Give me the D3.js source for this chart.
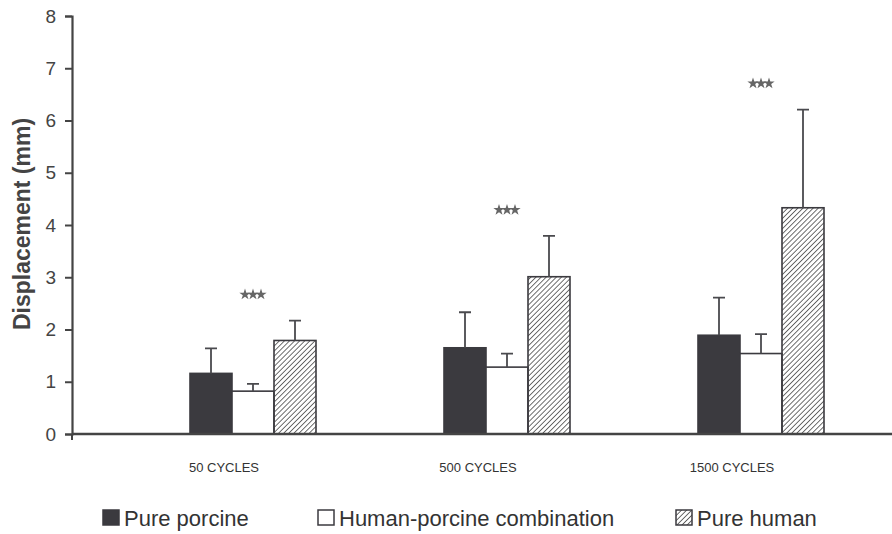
<!DOCTYPE html>
<html>
<head>
<meta charset="utf-8">
<script src="https://cdn.jsdelivr.net/npm/d3@7"></script>
<style>
  body { margin: 0; background: #fff; }
  svg { display: block; font-family: "Liberation Sans", Arial, sans-serif; }
</style>
</head>
<body>
<div id="chart"></div>
<script>
var width = 892, height = 534;

// chart values
var categories = ['50 CYCLES', '500 CYCLES', '1500 CYCLES'];
var series = ['Pure porcine', 'Human-porcine combination', 'Pure human'];
var porcine = [1.16, 1.65, 1.89];
var porcineErr = [0.48, 0.68, 0.72];
var combo = [0.82, 1.28, 1.54];
var comboErr = [0.14, 0.26, 0.37];
var human = [1.79, 3.01, 4.33];
var humanErr = [0.38, 0.78, 1.88];
var significance = [3, 3, 3]; // number of stars
var yTicks = [0, 1, 2, 3, 4, 5, 6, 7, 8];

var values = [porcine, combo, human];
var errors = [porcineErr, comboErr, humanErr];

var svg = d3.select('#chart').append('svg')
    .attr('width', width)
    .attr('height', height);

var defs = svg.append('defs');
defs.append('pattern')
    .attr('id', 'hatch')
    .attr('patternUnits', 'userSpaceOnUse')
    .attr('width', 3.6)
    .attr('height', 3.6)
    .attr('patternTransform', 'rotate(45)')
  .append('line')
    .attr('x1', 0).attr('y1', 0)
    .attr('x2', 0).attr('y2', 3.6)
    .attr('stroke', '#555')
    .attr('stroke-width', 1.7);

var fills = ['#3b3a3f', '#ffffff', 'url(#hatch)'];

var y = d3.scaleLinear().domain([0, 8]).range([434, 16]);
var x = d3.scaleBand().domain(categories).range([126, 888]).padding(0);
var xs = d3.scaleBand().domain(series).range([-63, 63]).padding(0);

// Y axis
var yAxis = svg.append('g')
    .attr('transform', 'translate(72,0)')
    .call(d3.axisLeft(y).tickValues(yTicks).tickSize(7).tickPadding(9).tickFormat(d3.format('d')));
yAxis.select('.domain').attr('stroke', '#444').attr('stroke-width', 2.2);
yAxis.selectAll('.tick line').attr('stroke', '#444').attr('stroke-width', 2);
yAxis.selectAll('.tick text')
    .attr('font-size', 19)
    .attr('fill', '#444')
    .attr('font-family', '"Liberation Sans", Arial, sans-serif');

svg.append('text')
    .attr('transform', 'translate(30,224) rotate(-90)')
    .attr('text-anchor', 'middle')
    .attr('font-size', 23)
    .attr('font-weight', 'bold')
    .attr('fill', '#444')
    .text('Displacement (mm)');

// Bars
var groups = svg.selectAll('g.group')
    .data(categories)
    .enter()
      .append('g')
        .attr('class', 'group')
        .attr('transform', function(d) { return 'translate(' + (x(d) + x.bandwidth() / 2) + ',0)'; });

series.forEach(function(s, si) {
  groups.append('rect')
    .attr('x', xs(s))
    .attr('width', xs.bandwidth())
    .attr('y', function(d, i) { return y(values[si][i]); })
    .attr('height', function(d, i) { return y(0) - y(values[si][i]); })
    .attr('fill', fills[si])
    .attr('stroke', '#3b3a3f')
    .attr('stroke-width', 1.6);

  // error bars (upper only)
  var cx = xs(s) + xs.bandwidth() / 2;
  groups.append('path')
    .attr('d', function(d, i) {
      var top = y(values[si][i] + errors[si][i]);
      return 'M' + cx + ',' + y(values[si][i]) + 'L' + cx + ',' + top
        + 'M' + (cx - 6) + ',' + top + 'L' + (cx + 6) + ',' + top;
    })
    .attr('fill', 'none')
    .attr('stroke', '#4a4a4e')
    .attr('stroke-width', 1.8);
});

// significance stars above the tallest error bar
var star = d3.symbol().type(d3.symbolStar).size(40);
groups.each(function(d, i) {
  var tops = values.map(function(v, si) { return v[i] + errors[si][i]; });
  var sy = y(d3.max(tops) + 0.5);
  var n = significance[i];
  d3.select(this).selectAll('path.star')
    .data(d3.range(n))
    .enter()
      .append('path')
        .attr('class', 'star')
        .attr('d', star)
        .attr('transform', function(k) { return 'translate(' + ((k - (n - 1) / 2) * 8) + ',' + sy + ')'; })
        .attr('fill', '#666');
});

// X axis baseline
svg.append('line')
    .attr('x1', 72).attr('x2', 892)
    .attr('y1', y(0)).attr('y2', y(0))
    .attr('stroke', '#444')
    .attr('stroke-width', 2.6);
svg.append('line')
    .attr('x1', 72).attr('x2', 72)
    .attr('y1', y(0)).attr('y2', y(0) + 6)
    .attr('stroke', '#444')
    .attr('stroke-width', 2);

// category labels
groups.append('text')
    .attr('x', -29)
    .attr('y', 472)
    .attr('text-anchor', 'middle')
    .attr('font-size', 13)
    .attr('fill', '#333')
    .text(function(d) { return d; });

// Legend
var legendX = [103, 318, 676];
var legend = svg.selectAll('g.legend')
    .data(series)
    .enter()
      .append('g')
        .attr('class', 'legend')
        .attr('transform', function(d, i) { return 'translate(' + legendX[i] + ',510)'; });

legend.append('rect')
    .attr('width', 16)
    .attr('height', 15)
    .attr('fill', function(d, i) { return fills[i]; })
    .attr('stroke', '#3b3a3f')
    .attr('stroke-width', 1.5);

legend.append('text')
    .attr('x', 21)
    .attr('y', 16)
    .attr('font-size', 22)
    .attr('fill', '#333')
    .text(function(d) { return d; });
</script>
</body>
</html>
